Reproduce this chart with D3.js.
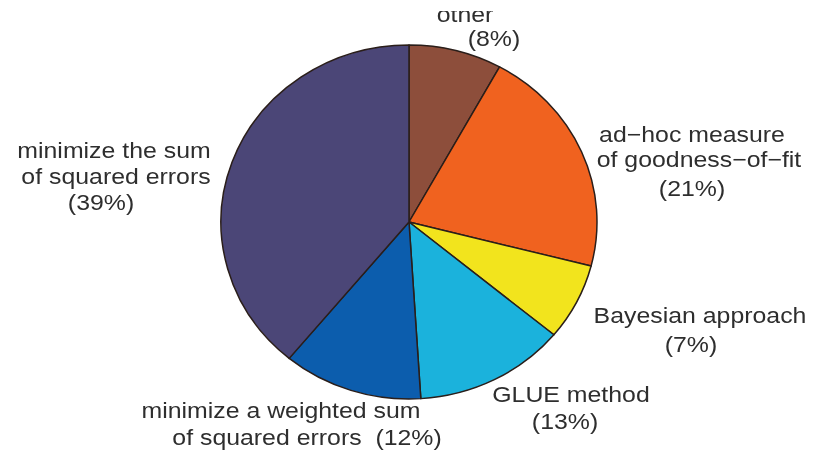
<!DOCTYPE html>
<html>
<head>
<meta charset="utf-8">
<script src="https://cdn.jsdelivr.net/npm/d3@7"></script>
<style>
  html, body { margin: 0; padding: 0; background: #fff; }
  svg { display: block; }
</style>
</head>
<body>
<svg id="chart" width="815" height="455"></svg>
<script>
// Calibration approaches, share of studies (%), clockwise from 12 o'clock
const categories = [
  "other",
  "ad-hoc measure of goodness-of-fit",
  "Bayesian approach",
  "GLUE method",
  "minimize a weighted sum of squared errors",
  "minimize the sum of squared errors"
];
const shares = [8, 21, 7, 13, 12, 39];
const sliceColors = ["#8d4e3b", "#f0621f", "#f2e41d", "#1bb2dc", "#0c5dad", "#4b4677"];
// Label text, one entry per line (the share line is built from the values)
const labelLines = [
  ["other"],
  ["ad\u2212hoc measure", "of goodness\u2212of\u2212fit"],
  ["Bayesian approach"],
  ["GLUE method"],
  ["minimize a weighted sum"],
  ["minimize the sum", "of squared errors"]
];

// Layout: pie centre / radii and label line anchors (centre x, baseline y)
const cx = 409, cy = 222, rx = 188, ry = 177;
const fontSize = 22, stretch = 1.13;
const labelLayout = [
  [[465, 22], [494, 46]],
  [[692, 142], [699, 167], [692, 196]],
  [[700, 323], [691, 352]],
  [[571, 402], [565, 429]],
  [[281, 418], [307, 445]],
  [[114, 158], [116, 184], [101, 210]]
];

const svg = d3.select("#chart");

// the drawing area starts slightly below the top edge; anything above is cut off
svg.append("defs").append("clipPath").attr("id", "area")
  .append("rect").attr("x", 0).attr("y", 11).attr("width", 815).attr("height", 444);

const pie = d3.pie().sort(null).value(d => d)(shares);
const arc = d3.arc().innerRadius(0).outerRadius(rx);

const pieG = svg.append("g")
  .attr("transform", `translate(${cx},${cy}) scale(1,${ry / rx})`)
  .style("filter", "blur(0.4px)");

pieG.selectAll("path")
  .data(pie)
  .join("path")
  .attr("d", arc)
  .attr("fill", (d, i) => sliceColors[i])
  .attr("stroke", "#2a1e1a")
  .attr("stroke-width", 1.5)
  .attr("stroke-linejoin", "round");

// Labels
const textG = svg.append("g")
  .attr("clip-path", "url(#area)")
  .append("g")
  .style("filter", "blur(0.45px)")
  .attr("font-family", "Liberation Sans, Arial, Helvetica, sans-serif")
  .attr("font-size", fontSize)
  .attr("fill", "#2e2e2e");

categories.forEach((c, i) => {
  const lines = labelLines[i].slice();
  const pct = `(${shares[i]}%)`;
  // weighted-sum label carries its share on the second line
  lines.push(i === 4 ? `of squared errors  ${pct}` : pct);
  lines.forEach((t, j) => {
    const [x, y] = labelLayout[i][j];
    textG.append("text")
      .attr("transform", `translate(${x},${y}) scale(${stretch},1)`)
      .attr("text-anchor", "middle")
      .attr("xml:space", "preserve")
      .text(t);
  });
});
</script>
</body>
</html>
